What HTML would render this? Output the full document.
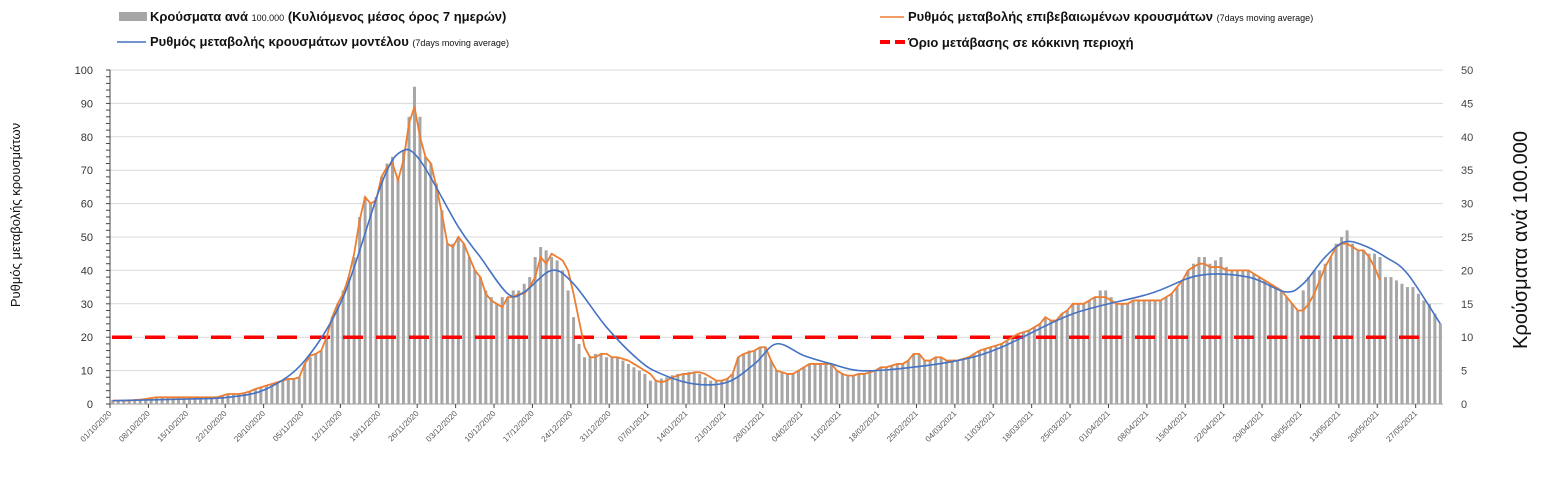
<!DOCTYPE html>
<html><head><meta charset="utf-8"><style>
body{margin:0;background:#fff;width:1545px;height:483px;overflow:hidden;font-family:"Liberation Sans","DejaVu Sans",sans-serif}
svg{display:block}
</style></head><body>
<svg id="chart" width="1545" height="483" xmlns="http://www.w3.org/2000/svg" font-family="Liberation Sans, DejaVu Sans, sans-serif">
<g>
 <rect x="119" y="12" width="28" height="9" fill="#a6a6a6"/>
 <text x="150" y="21" font-size="13" font-weight="bold" fill="#111">Κρούσματα ανά <tspan font-size="9" font-weight="normal">100.000</tspan> (Κυλιόμενος μέσος όρος 7 ημερών)</text>
 <line x1="117" y1="42" x2="146" y2="42" stroke="#4472c4" stroke-width="1.5"/>
 <text x="150" y="46" font-size="13" font-weight="bold" fill="#111">Ρυθμός μεταβολής κρουσμάτων μοντέλου <tspan font-size="9" font-weight="normal">(7days moving average)</tspan></text>
 <line x1="880" y1="17" x2="904" y2="17" stroke="#ed7d31" stroke-width="1.5"/>
 <text x="908" y="21" font-size="13" font-weight="bold" fill="#111">Ρυθμός μεταβολής επιβεβαιωμένων κρουσμάτων <tspan font-size="9" font-weight="normal">(7days moving average)</tspan></text>
 <line x1="880" y1="42" x2="906" y2="42" stroke="#ff0000" stroke-width="4" stroke-dasharray="10,5"/>
 <text x="908" y="47" font-size="13" font-weight="bold" fill="#111">Όριο μετάβασης σε κόκκινη περιοχή</text>
</g>
<text transform="translate(20,215) rotate(-90)" text-anchor="middle" font-size="13" fill="#111">Ρυθμός μεταβολής κρουσμάτων</text>
<text transform="translate(1527,240) rotate(-90)" text-anchor="middle" font-size="20" fill="#111">Κρούσματα ανά 100.000</text>
<g id="plot"></g>
</svg>
<script>
const rate=[1,1,1,1,1.2,1.3,1.5,1.8,2,2,
2,2,2,2,2,2,2,2,2,2,
2.5,3,3,3,3.3,3.8,4.5,5,5.5,6,
6.5,7,7.5,7.5,8,12,14.5,15,16,20,
26,30,33,38,45,55,62,60,61,68,
71,72,67,73,84,89,80,74,72,65,
57,48,47,50,48,44,40,38,33,31,
30,29,32,32,33,33,35,38,44,42,
45,44,43,40,33,25,17,14,14,15,
15,14,14,13.5,13,12,11,10,9,7,
6.5,7,8,8.5,9,9,9.5,9.5,9,8,
7,7,7.5,9,14,15,15.5,16,17,17,
13,10,9.5,9,9,10,11,12,12,12,
12,12,10,9,8.5,8.5,9,9,9.5,10,
11,11,11.5,12,12,13,15,15,13,13,
14,14,13,13,13,13.5,14,15,16,16.5,
17,17.5,18,19,20,21,21.5,22,23,24,
26,25,25,27,28,30,30,30,31,32,
32,32,31,30,30,30,31,31,31,31,
31,31,32,33,35,37,40,41,42,42,
41,41,41,40,40,40,40,40,39,38,
37,36,35,34,32,30,28,28,30,33,
37,41,44,47,48,48,47,46,46,44,
41,37];
const cases=[.6,.6,.6,.7,.7,.7,.8,.9,1,1,
1,1,1,1,1,1,1,1,1,1,
1.2,1.5,1.5,1.5,1.7,1.9,2.3,2.5,2.8,3,
3.3,3.5,3.8,3.8,4,6,7,7.5,8,10,
13,15,17,19,22,28,31,30,31,34,
36,37,34,38,43,47.5,43,37,36,33,
29,24,24,25,24,22,20,19,17,16,
15,16,16,17,17,18,19,22,23.5,23,
22,21.5,20,17,13,9,7,7,7.5,7.5,
7,7,7,6.5,6,5.5,5,4.5,3.5,3.5,
3.8,4,4.3,4.5,4.5,4.8,4.8,4.5,4,3.5,
3.5,3.5,3.8,4.5,7,7.5,8,8,8.5,8.5,
6.5,5,4.8,4.5,4.5,5,5.5,6,6,6,
6,6,5,4.5,4.3,4.3,4.5,4.5,4.8,5,
5.5,5.5,5.8,6,6,6.5,7.5,7.5,6.5,6.5,
7,7,6.5,6.5,6.5,6.8,7,7.5,8,8.3,
8.5,8.8,9,9.5,10,10.5,10.8,11,11.5,12,
13,12.5,12.5,13.5,14,15,15,15,15.5,16,
17,17,16,15,15,15,15.5,15.5,15.5,15.5,
15.5,15.5,16,16.5,17.5,18.5,20,21,22,22,
21,21.5,22,20.5,20,20,20,20,19.5,19,
18.5,18,17.5,17,16,15,14,17,19,20,
20,21,22,24,25,26,24,23,23,22.5,
22.5,22,19,19,18.5,18,17.5,17.5,16.5,15.5,
15,13.5,12];
const modelDays=[0,14,21,28,35,42,49,52.5,56,63,67,72,75,80,84,90,96,100,106,112,117,121,126,131,136,143,154,162,175,189,198,207,213.7,217,221,224.5,228,232,236,242];
const modelVals=[1,1.5,2,4.5,13,32,66,75.5,73,53,44,33,33.5,40,36,23,13,9,6,6.5,12,18,14.5,12,10,10.5,13,17,27,33,38.5,38,33.6,36,44,48.5,47.5,44,39,24];
const dateLabels=["01/10/2020","08/10/2020","15/10/2020","22/10/2020","29/10/2020","05/11/2020","12/11/2020","19/11/2020","26/11/2020","03/12/2020","10/12/2020","17/12/2020","24/12/2020","31/12/2020","07/01/2021","14/01/2021","21/01/2021","28/01/2021","04/02/2021","11/02/2021","18/02/2021","25/02/2021","04/03/2021","11/03/2021","18/03/2021","25/03/2021","01/04/2021","08/04/2021","15/04/2021","22/04/2021","29/04/2021","06/05/2021","13/05/2021","20/05/2021","27/05/2021"];
const leftTicks=[0,10,20,30,40,50,60,70,80,90,100];
const rightTicks=[0,5,10,15,20,25,30,35,40,45,50];
const threshold=20;

const NS="http://www.w3.org/2000/svg";
const g=document.getElementById('plot');
const X0=110,X1=1443,DAY=5.486,Y0=404,Y100=70;
const xDay=d=>X0+DAY*d;
const yL=v=>Y0-(Y0-Y100)*v/100;
const yR=v=>Y0-(Y0-Y100)*v/50;
function mk(t,a){const e=document.createElementNS(NS,t);for(const k in a)e.setAttribute(k,a[k]);g.appendChild(e);return e;}
leftTicks.forEach(v=>{
 const l=mk('line',{x1:X0,x2:X1,y1:yL(v),y2:yL(v),stroke:v===0?'#999':'#d9d9d9','stroke-width':1});
 
 
 const t=mk('text',{x:93,y:yL(v)+4,'text-anchor':'end','font-size':11,fill:'#333'});
 t.textContent=v;
 
 
});
for(let v=0;v<=100;v+=2){const l=mk('line',{x1:X0-4,x2:X0,y1:yL(v),y2:yL(v),stroke:'#444','stroke-width':1});
 
 }
const ax=mk('line',{x1:X0,x2:X0,y1:Y100,y2:Y0,stroke:'#444'});


rightTicks.forEach(v=>{
 const t=mk('text',{x:1461,y:yR(v)+4,'font-size':11,fill:'#444'});
 t.textContent=v;
 
 
});
cases.forEach((v,i)=>{
 const r=mk('rect',{x:xDay(i+0.5)-1.5,y:yR(v),width:3,height:Y0-yR(v),fill:'#a6a6a6'});
 
 
});
const th=mk('line',{x1:X0+2,x2:1426,y1:yL(threshold),y2:yL(threshold),stroke:'#ff0000','stroke-width':3.5,'stroke-dasharray':'20,13'});


const pts=modelDays.map((d,i)=>[xDay(d+0.5),yL(modelVals[i])]);
let dm=`M${pts[0][0]},${pts[0][1]}`;
for(let i=0;i<pts.length-1;i++){const p0=pts[Math.max(0,i-1)],p1=pts[i],p2=pts[i+1],p3=pts[Math.min(pts.length-1,i+2)];
 dm+=` C${p1[0]+(p2[0]-p0[0])/6},${p1[1]+(p2[1]-p0[1])/6} ${p2[0]-(p3[0]-p1[0])/6},${p2[1]-(p3[1]-p1[1])/6} ${p2[0]},${p2[1]}`;}
const rl=mk('polyline',{points:rate.map((v,i)=>xDay(i+0.5)+','+yL(v)).join(' '),fill:'none',stroke:'#ed7d31','stroke-width':1.8});


const ml=mk('path',{d:dm,fill:'none',stroke:'#4472c4','stroke-width':1.6});


dateLabels.forEach((s,i)=>{
 const x=xDay(i*7);
 const tk=mk('line',{x1:x,x2:x,y1:Y0,y2:Y0+4,stroke:'#444'});
 
 
 const t=mk('text',{transform:`translate(${x+2},${Y0+10}) rotate(-45)`,'text-anchor':'end','font-size':8,fill:'#555'});
 t.textContent=s;
 
 
});
</script>
</body></html>
